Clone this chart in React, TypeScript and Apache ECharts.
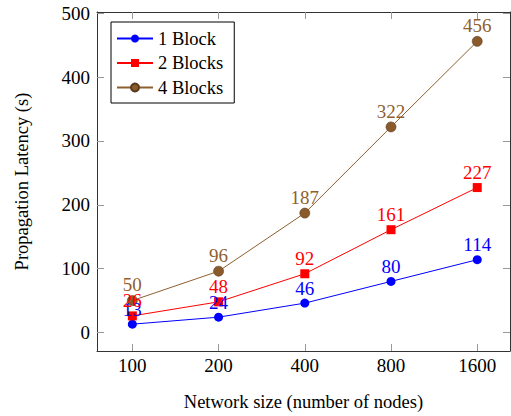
import React, { useEffect, useRef } from "react";
import * as echarts from "echarts";

const categories = ["100", "200", "400", "800", "1600"];
const oneBlock = [13, 24, 46, 80, 114];
const twoBlocks = [26, 48, 92, 161, 227];
const fourBlocks = [50, 96, 187, 322, 456];
const yTicks = [0, 100, 200, 300, 400, 500];
const xTicks = [0, 1, 2, 3, 4];

const FONT = "Liberation Serif";
const NUM_SIZE = 19;
const TXT_SIZE = 18.5;

export default function App() {
  const ref = useRef<HTMLDivElement>(null);
  useEffect(() => {
    if (!ref.current) return;
    const chart = echarts.init(ref.current, null, { renderer: "svg" });
    const toPairs = (arr: number[]) => arr.map((v, i) => [i, v]);
    const mk = (name: string, data: number[], color: string, symbol: string, size: number, border?: string) => ({
      name,
      type: "line",
      data: toPairs(data),
      symbol,
      symbolSize: size,
      showAllSymbol: true,
      lineStyle: { color, width: 1 },
      itemStyle: { color: border ? border : color, borderColor: border ? "#5a3a1c" : color, borderWidth: border ? 0.6 : 0 },
      label: {
        show: true,
        position: "top",
        distance: 1,
        color,
        fontFamily: FONT,
        fontSize: NUM_SIZE,
      },
      emphasis: { disabled: true },
    });
    const axisLineStyle = { color: "#333", width: 1 };
    const tickStyle = { color: "#999", width: 1 };
    chart.setOption({
      animation: false,
      grid: { left: 97, right: 1, top: 12, bottom: 61, containLabel: false },
      legend: {
        left: 111,
        top: 22,
        orient: "vertical",
        itemWidth: 36,
        itemHeight: 10,
        itemGap: 5.5,
        padding: [7, 11, 6, 5],
        borderColor: "#000",
        borderWidth: 1,
        backgroundColor: "#fff",
        textStyle: { fontFamily: FONT, fontSize: TXT_SIZE, color: "#000" },
        data: ["1 Block", "2 Blocks", "4 Blocks"],
      },
      xAxis: [
        {
          type: "value",
          min: -0.41,
          max: 4.38,
          position: "bottom",
          name: "Network size (number of nodes)",
          nameLocation: "middle",
          nameGap: 41,
          nameTextStyle: { fontFamily: FONT, fontSize: TXT_SIZE, color: "#000" },
          axisLine: { show: true, onZero: false, lineStyle: axisLineStyle },
          axisTick: { show: true, inside: true, length: 7, customValues: xTicks, lineStyle: tickStyle },
          axisLabel: {
            customValues: xTicks,
            formatter: (v: number) => categories[Math.round(v)] ?? "",
            fontFamily: FONT,
            fontSize: NUM_SIZE,
            color: "#000",
            margin: 5,
          },
          splitLine: { show: false },
        },
        {
          type: "value",
          min: -0.41,
          max: 4.38,
          position: "top",
          axisLine: { show: true, onZero: false, lineStyle: axisLineStyle },
          axisTick: { show: true, inside: true, length: 7, customValues: xTicks, lineStyle: tickStyle },
          axisLabel: { show: false },
          splitLine: { show: false },
        },
      ],
      yAxis: [
        {
          type: "value",
          min: -29,
          max: 502,
          position: "left",
          name: "Propagation Latency (s)",
          nameLocation: "middle",
          nameGap: 66,
          nameTextStyle: { fontFamily: FONT, fontSize: TXT_SIZE, color: "#000" },
          axisLine: { show: true, onZero: false, lineStyle: axisLineStyle },
          axisTick: { show: true, inside: true, length: 7, customValues: yTicks, lineStyle: tickStyle },
          axisLabel: {
            customValues: yTicks,
            fontFamily: FONT,
            fontSize: NUM_SIZE,
            color: "#000",
            margin: 7,
          },
          splitLine: { show: false },
        },
        {
          type: "value",
          min: -29,
          max: 502,
          position: "right",
          axisLine: { show: true, onZero: false, lineStyle: axisLineStyle },
          axisTick: { show: true, inside: true, length: 7, customValues: yTicks, lineStyle: tickStyle },
          axisLabel: { show: false },
          splitLine: { show: false },
        },
      ],
      series: [
        mk("1 Block", oneBlock, "#0000ff", "circle", 9),
        mk("2 Blocks", twoBlocks, "#ff0000", "rect", 9),
        mk("4 Blocks", fourBlocks, "#8f5f30", "circle", 10, "#8b5a2b"),
      ],
    });
    return () => chart.dispose();
  }, []);
  return (
    <div
      ref={ref}
      style={{ position: "fixed", left: 0, top: 0, width: 511, height: 416, background: "#fff" }}
    />
  );
}
